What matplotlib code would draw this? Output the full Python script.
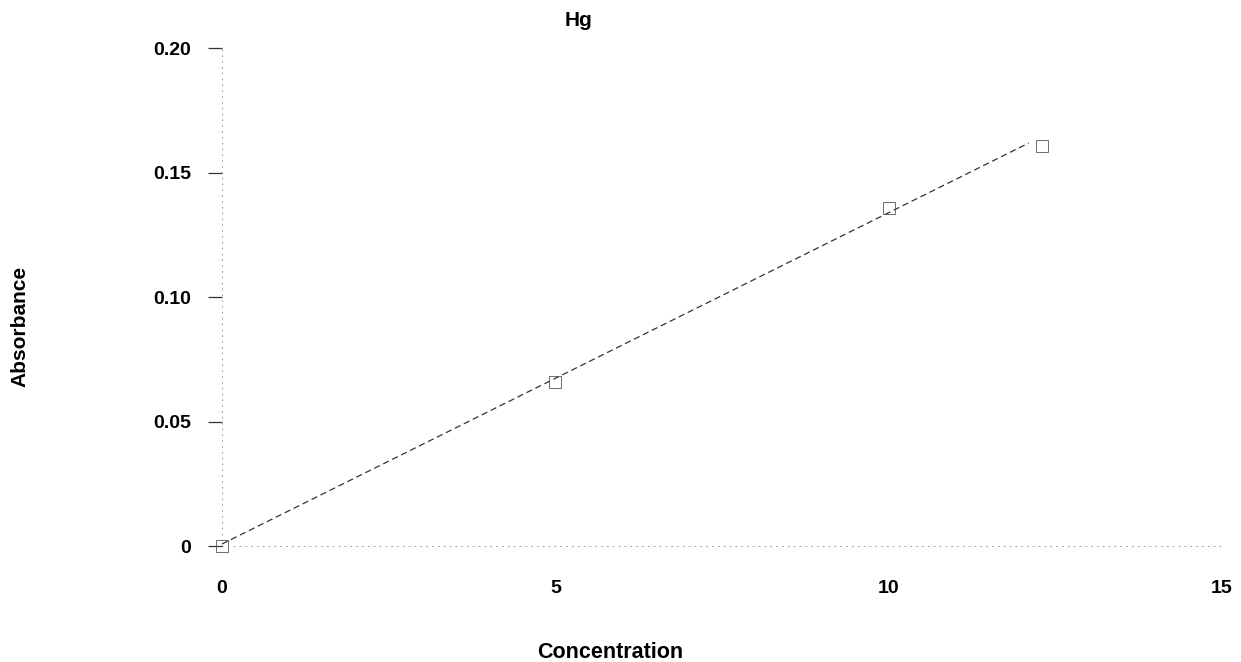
import matplotlib
matplotlib.use("Agg")
import matplotlib.pyplot as plt

# calibration standards
conc = [0.0, 5.0, 10.0, 12.3]
absorb = [0.000, 0.066, 0.136, 0.161]

# fitted line end points
fit_x = [0.0, 12.1]
fit_y = [0.001, 0.162]

x_ticks = [0, 5, 10, 15]
y_ticks = [0, 0.05, 0.10, 0.15, 0.20]
y_labels = ['0', '0.05', '0.10', '0.15', '0.20']

plt.rcParams['font.family'] = ['Liberation Sans', 'DejaVu Sans']
plt.rcParams['font.weight'] = 'bold'

fig = plt.figure(figsize=(12.41, 6.62), dpi=100)
ax = fig.add_axes([0.1789, 0.1745, 0.8058, 0.7523])

ax.plot(fit_x, fit_y, color='#333333', lw=0.9, ls=(0, (5, 3)), clip_on=False)
ax.plot(conc, absorb, ls='none', marker='s', markersize=9, markerfacecolor='none',
        markeredgecolor='#555555', markeredgewidth=0.6, clip_on=False)

ax.set_xlim(0, 15)
ax.set_ylim(0, 0.2)
ax.set_xticks(x_ticks)
ax.set_xticklabels([str(t) for t in x_ticks])
ax.set_yticks(y_ticks)
ax.set_yticklabels(y_labels)

for side in ['top', 'right']:
    ax.spines[side].set_visible(False)
for side in ['left', 'bottom']:
    ax.spines[side].set_color('#888888')
    ax.spines[side].set_linewidth(0.6)
    ax.spines[side].set_linestyle((0, (1, 6)))

ax.tick_params(axis='y', direction='out', length=10, width=0.9, color='#333333',
               pad=12, labelsize=14)
ax.tick_params(axis='x', length=0, pad=24, labelsize=14)

fig.text(579 / 1241, 1 - 21 / 662, 'Hg', ha='center', va='center', fontsize=15)
fig.text(20 / 1241, 1 - 326 / 662, 'Absorbance', ha='center', va='center',
         rotation=90, fontsize=15)
fig.text(610 / 1241, 1 - 652 / 662, 'Concentration', ha='center', va='center',
         fontsize=15.5)

fig.savefig('out.png', dpi=100)
